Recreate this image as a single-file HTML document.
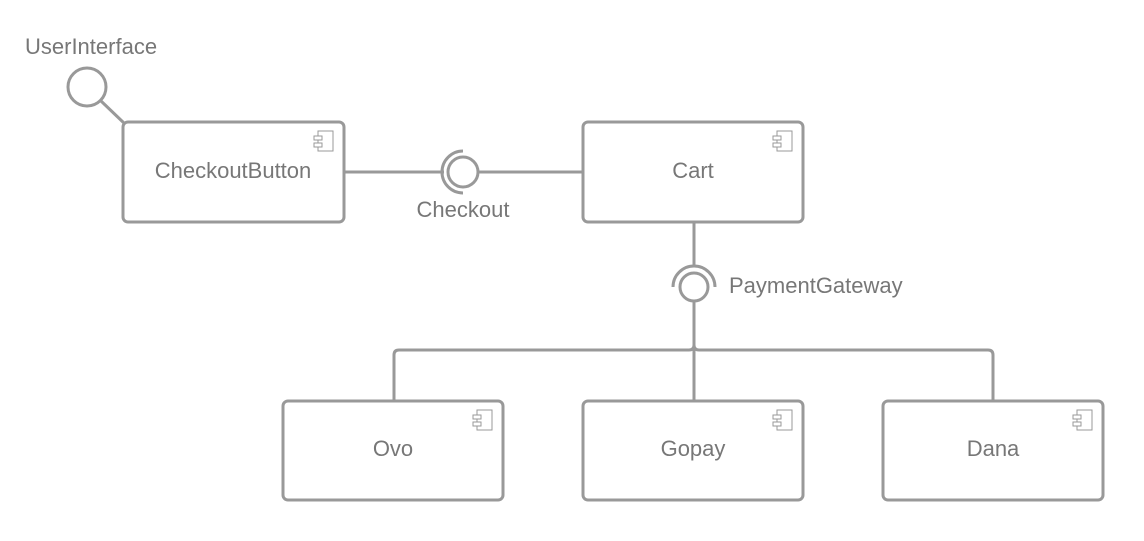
<!DOCTYPE html>
<html><head><style>body{margin:0;background:#fff}svg{display:block}text{font-family:"Liberation Sans",sans-serif;fill:#777;font-size:22px}</style></head><body>
<svg width="1144" height="541" xmlns="http://www.w3.org/2000/svg">
<defs>
<g id="ic" fill="#fff" stroke="#999" stroke-width="1">
<rect x="4" y="0" width="15" height="20"/>
<rect x="0" y="5" width="8" height="4"/>
<rect x="0" y="12" width="8" height="4"/>
</g>
</defs>
<g fill="none" stroke="#999" stroke-width="3">
<circle cx="87" cy="87" r="19"/>
<line x1="101" y1="101" x2="125" y2="124"/>
<rect x="123" y="122" width="221" height="100" rx="5"/>
<rect x="583" y="122" width="220" height="100" rx="5"/>
<rect x="283" y="401" width="220" height="99" rx="5"/>
<rect x="583" y="401" width="220" height="99" rx="5"/>
<rect x="883" y="401" width="220" height="99" rx="5"/>
<line x1="344" y1="172" x2="444" y2="172"/>
<circle cx="463" cy="172" r="15"/>
<path d="M 463 151 A 21 21 0 0 0 463 193"/>
<line x1="478" y1="172" x2="583" y2="172"/>
<line x1="694" y1="222" x2="694" y2="266"/>
<circle cx="694" cy="287" r="14"/>
<path d="M 673 287 A 21 21 0 0 1 715 287"/>
<path d="M 694 301 V 345 Q 694 350 689 350 H 399 Q 394 350 394 355 V 401"/>
<path d="M 694 345 Q 694 350 699 350 H 988 Q 993 350 993 355 V 401"/>
<line x1="694" y1="345" x2="694" y2="401"/>
</g>
<use href="#ic" x="773" y="131"/>
<use href="#ic" x="314" y="131"/>
<use href="#ic" x="473" y="410"/>
<use href="#ic" x="773" y="410"/>
<use href="#ic" x="1073" y="410"/>
<text x="25" y="54">UserInterface</text>
<text x="233" y="178" text-anchor="middle">CheckoutButton</text>
<text x="693" y="178" text-anchor="middle">Cart</text>
<text x="463" y="217" text-anchor="middle">Checkout</text>
<text x="729" y="293">PaymentGateway</text>
<text x="393" y="456" text-anchor="middle">Ovo</text>
<text x="693" y="456" text-anchor="middle">Gopay</text>
<text x="993" y="456" text-anchor="middle">Dana</text>
</svg>
</body></html>
